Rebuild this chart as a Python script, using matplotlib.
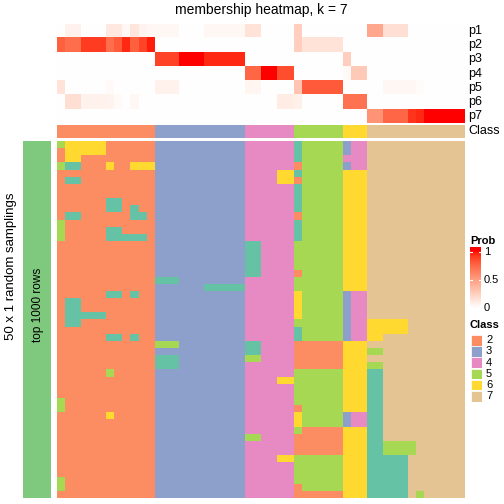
import numpy as np
import matplotlib
matplotlib.use("Agg")
import matplotlib.pyplot as plt
from matplotlib.colors import ListedColormap, to_rgb
from matplotlib.patches import Rectangle

plt.rcParams['font.family'] = ['Liberation Sans', 'DejaVu Sans']

# ---------------- data ----------------
title = "membership heatmap, k = 7"
row_labels = ["p1", "p2", "p3", "p4", "p5", "p6", "p7"]
class_labels = ["2", "3", "4", "5", "6", "7"]

# top-level class of each of the 50 samples
top_class = [2]*12 + [3]*11 + [4]*6 + [5]*6 + [6]*3 + [7]*12

p1 = [0, .07, .07, 0, 0, 0, .12, .12, .04, .13, .06, .04,
      .04, .04, .04, 0, 0, 0, .04, .04, .04, .04, .04,
      .15, .15, 0, 0, 0, 0,
      .25, 0, 0, 0, 0, 0,
      0, 0, 0,
      .45, .45, .17, .17, .17, 0, 0, 0, 0, 0, 0, 0]
p2 = [.78, .72, .72, .9, .9, .9, .72, .8, .95, .78, .88, .97,
      0, 0, 0, 0, 0, 0, 0, 0, 0, 0, 0,
      0, 0, 0, 0, 0, 0,
      .25, .15, .15, .15, .15, .15,
      0, 0, 0,
      0, 0, 0, 0, 0, 0, 0, 0, 0, 0, 0, 0]
p3 = [0]*12 + [.88, .88, .88, 1, 1, 1, .95, .95, .95, .95, .95] + [0]*6 + [0]*6 + \
     [.25, 0, 0] + [0]*12
p4 = [0]*12 + [0]*11 + [.75, .75, 1, 1, .85, .85] + [0]*6 + [.03, .28, .28] + [0]*12
p5 = [.15, 0, 0, 0, 0, 0, .03, 0, 0, 0, 0, 0,
      .07, .07, .07, 0, 0, 0, 0, 0, 0, 0, 0,
      .05, .05, 0, 0, 0, 0,
      .3, .8, .8, .8, .8, .8,
      0, 0, 0,
      0, 0, .04, .04, .04, .04, .02, 0, 0, 0, 0, 0]
p6 = [0, .17, .17, .07, .07, .07, .06, .03, 0, .04, 0, 0,
      0, 0, 0, 0, 0, 0, 0, 0, 0, 0, 0,
      0, 0, 0, 0, .1, .1,
      .08, 0, 0, 0, 0, 0,
      .7, .7, .7,
      0, 0, 0, 0, 0, 0, 0, 0, 0, 0, 0, 0]
p7 = [0]*12 + [0]*11 + [0]*6 + [0]*6 + [0]*3 + \
     [.55, .55, .75, .75, .75, .92, .95, 1, 1, 1, 1, 1]

# 50 random samplings x 50 samples: class assigned in each sampling
# groups: 2(12) | 3(11) | 4(6) | 5(1) | 5(5) | 6(1) | 6(2) | 7(12)
samplings = [
    "566666222222|33333333333|444444|1|55555|3|44|777777777777",
    "266666222222|33333333333|444444|1|55555|3|44|777777777777",
    "266222222222|33333333333|444444|1|55555|4|44|777777777777",
    "511222622666|33333333333|444444|2|55555|3|44|777777777777",
    "222222222222|33333333333|444466|1|55555|6|66|777777777777",
    "211222222222|33333333333|444466|2|55555|6|66|777777777777",
    "222222222222|33333333333|444444|1|55555|6|66|777777777777",
    "222222222222|33333333333|444444|1|55555|6|66|777777777777",
    "222222112222|33333333333|444444|1|55555|6|66|777777777777",
    "222222112122|33333333333|444444|1|55555|6|66|777777777777",
    "211222222112|33333333333|444444|2|55555|6|66|777777777777",
    "522222222222|33333333333|444444|1|55555|6|66|777777777777",
    "522222112222|33333333333|444444|1|55555|6|66|777777777777",
    "522222111112|33333333333|444444|1|55555|6|66|777777777777",
    "222222222222|33333333333|114444|5|55555|6|66|777777777777",
    "222222222222|33333333333|114444|5|55555|6|66|777777777777",
    "222222222222|33333333333|114444|5|55555|6|66|777777777777",
    "222222222222|33333333333|114444|5|55555|6|66|777777777777",
    "222222222222|33333333333|114444|2|55555|6|66|777777777777",
    "222222222222|11133333333|444444|5|55555|6|66|777777777777",
    "222222222222|33333311111|444444|5|55555|6|66|777777777777",
    "222222112122|33333333333|444444|6|55555|3|44|777777777777",
    "211222222222|33333333333|444444|6|55555|3|44|777777777777",
    "211222222222|33333333333|444444|6|55555|3|44|777777777777",
    "211111222222|33333333333|444444|6|55555|3|44|777777777777",
    "211222222222|33333333333|444444|5|55555|3|44|666667777777",
    "222222222222|33333333333|444444|1|55555|3|44|666667777777",
    "222222112122|33333333333|444444|1|55555|3|44|667777777777",
    "222222222222|55533333333|114444|2|22222|6|66|777777777777",
    "222222222222|33333333333|114444|2|22222|6|66|557777777777",
    "222222222222|11133333333|554444|2|22222|6|66|777777777777",
    "222222222222|11133333333|444444|2|22222|6|66|557777777777",
    "222222522222|33333333333|444444|5|55555|6|66|117777777777",
    "222222222222|33333333333|444466|5|55555|6|66|117777777777",
    "222222222222|33333333333|444444|5|55555|6|66|117777777777",
    "222222222222|33333333333|444444|5|55555|6|66|117777777777",
    "522222222222|33333333333|444444|5|55555|6|66|117777777777",
    "522222222222|33333333333|444444|2|55555|6|66|117777777777",
    "222222622222|33333333333|444444|6|55555|3|44|117777777777",
    "222222222222|33333333333|444444|6|55555|3|44|117777777777",
    "222222222222|33333333333|444444|5|22222|6|66|117777777777",
    "222222222222|33333333333|554444|2|22222|6|66|117777777777",
    "222222222222|33333333333|444444|2|22222|6|66|115555777777",
    "222222222222|33333333333|444444|2|22222|6|66|115555777777",
    "222222222222|33333333333|444466|5|55555|6|66|111117777777",
    "222222222222|33333333333|444444|5|55555|6|66|111117777777",
    "222222222222|33333333333|444444|5|55555|6|66|111117777777",
    "522222222222|33333333333|444444|5|55555|6|66|111117777777",
    "522222222222|33333333333|444444|2|55555|6|66|111117777777",
    "222222222222|33333333333|444444|2|22222|6|66|111117577777",
]

class_colors = {1: "#66C2A5", 2: "#FC8D62", 3: "#8DA0CB", 4: "#E78AC3",
                5: "#A6D854", 6: "#FFD92F", 7: "#E5C494"}

# ---------------- colour helpers (LAB interpolation white -> red) ----------------
Mx = np.array([[0.4124, 0.3576, 0.1805], [0.2126, 0.7152, 0.0722], [0.0193, 0.1192, 0.9505]])
WP = np.array([0.95047, 1.0, 1.08883])
d = 6 / 29


def rgb2lab(rgb):
    c = np.asarray(rgb, float)
    lin = np.where(c <= 0.04045, c / 12.92, ((c + 0.055) / 1.055) ** 2.4)
    xyz = Mx @ lin / WP
    f = np.where(xyz > d ** 3, np.cbrt(xyz), xyz / (3 * d * d) + 4 / 29)
    return np.array([116 * f[1] - 16, 500 * (f[0] - f[1]), 200 * (f[1] - f[2])])


def lab2rgb(lab):
    L, a, b = lab
    fy = (L + 16) / 116
    f = np.array([fy + a / 500, fy, fy - b / 200])
    xyz = np.where(f > d, f ** 3, 3 * d * d * (f - 4 / 29)) * WP
    lin = np.linalg.solve(Mx, xyz)
    lin = np.clip(lin, 0, None)
    c = np.where(lin <= 0.0031308, 12.92 * lin, 1.055 * lin ** (1 / 2.4) - 0.055)
    return np.clip(c, 0, 1)


lw, lr = rgb2lab([1, 1, 1]), rgb2lab([1, 0, 0])
cols = [lab2rgb((1 - t) * lw + t * lr) for t in np.linspace(0, 1, 256)]
prob_cmap = ListedColormap(cols)

# ---------------- figure ----------------
W = H = 504
fig = plt.figure(figsize=(5.04, 5.04), dpi=100)


def add_ax(x0, y0, x1, y1):
    ax = fig.add_axes([x0 / W, 1 - y1 / H, (x1 - x0) / W, (y1 - y0) / H])
    ax.set_axis_off()
    return ax


def to_rgb_rows(mat):
    return np.array([[to_rgb(class_colors[v]) for v in row] for row in mat])


X0, X1 = 57, 465

# membership heatmap
P = np.array([p1, p2, p3, p4, p5, p6, p7])
ax = add_ax(X0, 24, X1, 123.2)
ax.imshow(P, cmap=prob_cmap, vmin=0, vmax=1, aspect='auto', interpolation='nearest')
for i, lab in enumerate(row_labels):
    fig.text(468 / W, 1 - (24 + (i + 0.5) * (99.2 / 7)) / H, lab, fontsize=9,
             ha='left', va='center')

# class annotation
ax = add_ax(X0, 124.5, X1, 138.5)
ax.imshow(to_rgb_rows([top_class]), aspect='auto', interpolation='nearest')
fig.text(468 / W, 1 - 131.5 / H, "Class", fontsize=9, ha='left', va='center')

# random samplings heatmap
S = [[int(ch) for ch in s.replace("|", "")] for s in samplings]
ax = add_ax(X0, 141.3, X1, 498)
ax.imshow(to_rgb_rows(S), aspect='auto', interpolation='nearest')

# left annotation bar
ax = add_ax(23, 141.3, 51, 498)
ax.add_patch(Rectangle((0, 0), 1, 1, color="#7FC97F", transform=ax.transAxes))
fig.text(38 / W, 1 - 305 / H, "top 1000 rows", fontsize=8.5, rotation=90,
         ha='center', va='center')
fig.text(11 / W, 1 - 266 / H, "50 x 1 random samplings", fontsize=9.5, rotation=90,
         ha='center', va='center')

# title
fig.text((X0 + X1) / 2 / W, 1 - 10 / H, title, fontsize=10, ha='center', va='center')

# Prob legend
fig.text(470 / W, 1 - 241 / H, "Prob", fontsize=8, fontweight='bold', ha='left', va='center')
cb_top, cb_bot = 247, 309
v_top, v_bot = (308 - cb_top) / 56, (308 - cb_bot) / 56
ax = add_ax(470, cb_top, 481, cb_bot)
grad = np.clip(np.linspace(v_top, v_bot, 200), 0, 1)[:, None]
ax.imshow(grad, cmap=prob_cmap, vmin=0, vmax=1, aspect='auto',
          extent=[0, 1, v_bot, v_top], interpolation='bilinear')
ax.set_xlim(0, 1)
ax.set_ylim(v_bot, v_top)
for v, lab in [(0, "0"), (0.5, "0.5"), (1, "1")]:
    ax.plot([0, 0.2], [v, v], color='white', lw=0.8)
    ax.plot([0.8, 1], [v, v], color='white', lw=0.8)
    fig.text(484 / W, 1 - (308 - 56 * v) / H, lab, fontsize=8, ha='left', va='center')

# Class legend
fig.text(470 / W, 1 - 325 / H, "Class", fontsize=8, fontweight='bold', ha='left', va='center')
for i, lab in enumerate(class_labels):
    yt = 335 + 11.2 * i
    ax = add_ax(471, yt, 482, yt + 10.6)
    ax.add_patch(Rectangle((0, 0), 1, 1, facecolor=class_colors[int(lab)],
                           edgecolor='white', lw=0.5, transform=ax.transAxes))
    fig.text(486 / W, 1 - (yt + 5.3) / H, lab, fontsize=8, ha='left', va='center')

fig.savefig("out.png", dpi=100)
